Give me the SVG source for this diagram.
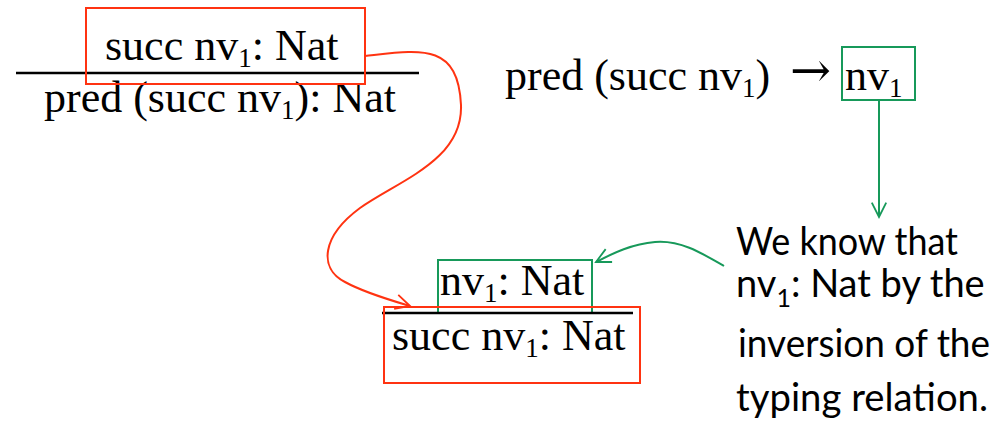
<svg xmlns="http://www.w3.org/2000/svg" width="1001" height="424" viewBox="0 0 1001 424">
<style>
.tm{font-family:"Liberation Serif","Times New Roman",serif;font-size:44px;fill:#000}
.sb{font-size:27px}
.ar{font-family:"DejaVu Serif",serif;font-size:49px;fill:#000}
.cb{font-family:Lato,"Liberation Sans",sans-serif;font-size:38px;fill:#000}
.rbox{fill:none;stroke:#ff3311;stroke-width:2}
.gbox{fill:none;stroke:#17995a;stroke-width:2}
.rule{stroke:#000;stroke-width:2.5}
.rc{fill:none;stroke:#ff3311;stroke-width:2}
.gc{fill:none;stroke:#17995a;stroke-width:2}
</style>
<defs>
<marker id="ar" viewBox="0 0 20 20" refX="18" refY="10" markerWidth="18" markerHeight="18" markerUnits="userSpaceOnUse" orient="auto">
<path d="M2,2 L18,10 L2,18" fill="none" stroke="#ff3311" stroke-width="2"/>
</marker>
<marker id="ag" viewBox="0 0 20 20" refX="18" refY="10" markerWidth="18" markerHeight="18" markerUnits="userSpaceOnUse" orient="auto">
<path d="M2,2 L18,10 L2,18" fill="none" stroke="#17995a" stroke-width="2"/>
</marker>
</defs>

<g id="rule-top">
<text class="tm" x="105" y="60">succ nv<tspan class="sb" dy="7">1</tspan><tspan dy="-7">: Nat</tspan></text>
<line class="rule" x1="16" y1="73" x2="419" y2="73"/>
<text class="tm" x="44" y="112">pred (succ nv<tspan class="sb" dy="7">1</tspan><tspan dy="-7">): Nat</tspan></text>
<rect class="rbox" x="86" y="8" width="279" height="76"/>
</g>

<g id="eval-rule">
<text class="tm" x="505" y="90">pred (succ nv<tspan class="sb" dy="7">1</tspan><tspan dy="-7">)</tspan></text>
<text class="ar" x="790" y="87">→</text>
<text class="tm" x="845" y="90">nv<tspan class="sb" dy="7">1</tspan></text>
<rect class="gbox" x="842" y="47" width="73" height="53"/>
</g>

<g id="rule-bottom">
<text class="tm" x="440" y="295">nv<tspan class="sb" dy="7">1</tspan><tspan dy="-7">: Nat</tspan></text>
<rect class="gbox" x="438" y="260" width="154" height="53"/>
<line class="rule" x1="382" y1="313" x2="633" y2="313"/>
<text class="tm" x="392" y="350">succ nv<tspan class="sb" dy="7">1</tspan><tspan dy="-7">: Nat</tspan></text>
<rect class="rbox" x="384" y="307" width="256" height="76"/>
</g>

<g id="note">
<text class="cb" x="736" y="255" textLength="222" lengthAdjust="spacingAndGlyphs">We know that</text>
<text class="cb" x="736" y="297">nv<tspan font-size="25" dy="10">1</tspan><tspan dy="-10">: Nat by the</tspan></text>
<text class="cb" x="738" y="357" textLength="252" lengthAdjust="spacingAndGlyphs">inversion of the</text>
<text class="cb" x="736" y="411" textLength="252" lengthAdjust="spacingAndGlyphs">typing relation.</text>
</g>

<g id="connectors">
<path class="rc" d="M365,56 C420,50 458,42 461,105 C463,160 400,180 360,208 C322,236 318,268 345,282 C365,293 390,300 410,306" marker-end="url(#ar)"/>
<path class="gc" d="M879,100 L879,217" marker-end="url(#ag)"/>
<path class="gc" d="M724,266 C700,252 680,240 655,242 C630,244 610,255 596,262" marker-end="url(#ag)"/>
</g>
</svg>
